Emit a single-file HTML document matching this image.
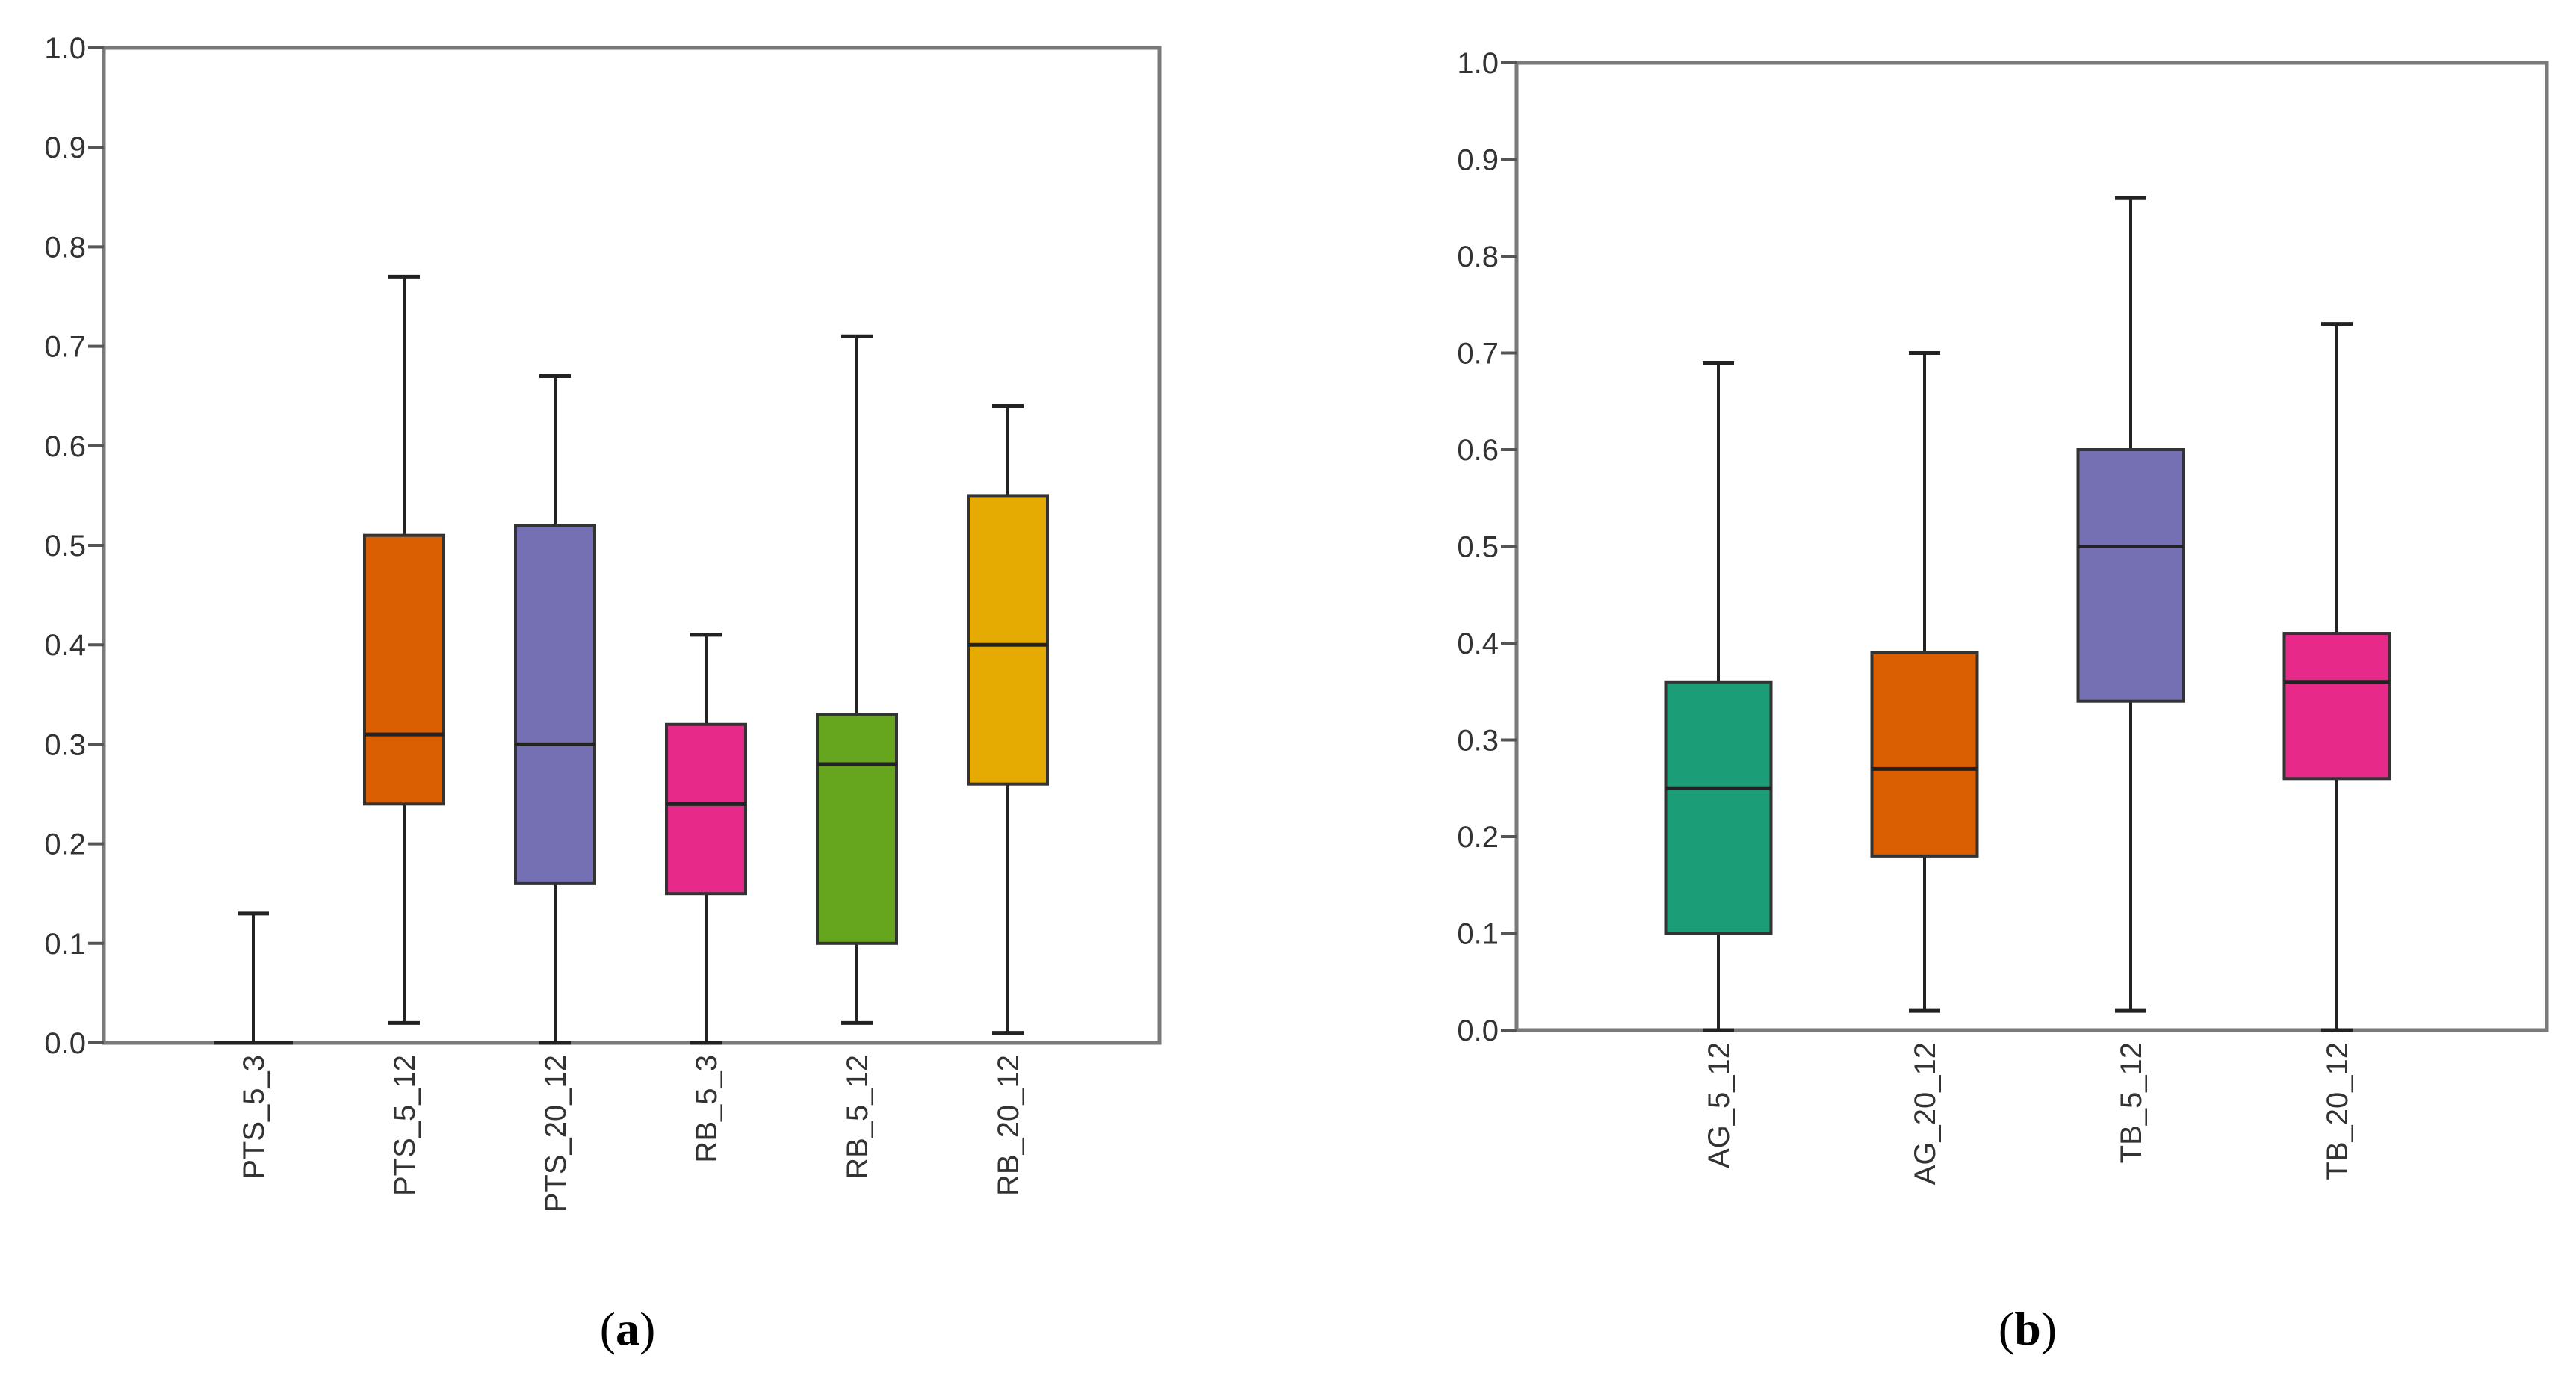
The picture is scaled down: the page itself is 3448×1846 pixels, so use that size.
<!DOCTYPE html>
<html><head><meta charset="utf-8"><style>
html,body{margin:0;padding:0;background:#fff;}
svg{display:block;}
text{font-family:"Liberation Sans",sans-serif;}
</style></head><body>
<svg id="chart" width="3448" height="1846" viewBox="0 0 3448 1846" xmlns="http://www.w3.org/2000/svg">
<rect x="0" y="0" width="3448" height="1846" fill="#fff"/>
<text x="840" y="1800" text-anchor="middle" style="font-family:'Liberation Serif',serif" font-size="64">(<tspan font-weight="bold">a</tspan>)</text>
<text x="2714" y="1800" text-anchor="middle" style="font-family:'Liberation Serif',serif" font-size="64">(<tspan font-weight="bold">b</tspan>)</text>
</svg>
<script>
const catsA = ["PTS_5_3","PTS_5_12","PTS_20_12","RB_5_3","RB_5_12","RB_20_12"];
const minA = [0, 0.02, 0, 0, 0.02, 0.01];
const q1A = [0, 0.24, 0.16, 0.15, 0.10, 0.26];
const medA = [0, 0.31, 0.30, 0.24, 0.28, 0.40];
const q3A = [0, 0.51, 0.52, 0.32, 0.33, 0.55];
const maxA = [0.13, 0.77, 0.67, 0.41, 0.71, 0.64];
const colA = ["#d95f02","#d95f02","#7570b3","#e7298a","#66a61e","#e6ab02"];

const catsB = ["AG_5_12","AG_20_12","TB_5_12","TB_20_12"];
const minB = [0, 0.02, 0.02, 0];
const q1B = [0.10, 0.18, 0.34, 0.26];
const medB = [0.25, 0.27, 0.50, 0.36];
const q3B = [0.36, 0.39, 0.60, 0.41];
const maxB = [0.69, 0.70, 0.86, 0.73];
const colB = ["#1b9e77","#d95f02","#7570b3","#e7298a"];

const yTicks = [0,0.1,0.2,0.3,0.4,0.5,0.6,0.7,0.8,0.9,1.0];

const svg = document.getElementById('chart');
const NS = "http://www.w3.org/2000/svg";
function mk(tag, attrs){const e=document.createElementNS(NS,tag);for(const k in attrs)e.setAttribute(k,attrs[k]);svg.appendChild(e);return e;}

function panel(p, cats, mn, q1, md, q3, mx, cols, prefix){
  const y = v => p.bottom - v*(p.bottom-p.top);
  const x = i => p.x0 + i*p.step;
  const fr = mk('rect',{x:p.left,y:p.top,width:p.right-p.left,height:p.bottom-p.top,fill:'none',stroke:'#7a7a7a','stroke-width':5});
  
  
  yTicks.forEach(t=>{
    const tk = mk('line',{x1:p.left-21,x2:p.left,y1:y(t),y2:y(t),stroke:'#555','stroke-width':4});
    
    
    const tl = mk('text',{x:p.left-24,y:y(t)+14,'text-anchor':'end','font-size':40,fill:'#333'});
    tl.textContent = t.toFixed(1);
    
    
  });
  cats.forEach((c,i)=>{
    const cx = x(i), hw = p.bw/2;
    const wh = mk('line',{x1:cx,x2:cx,y1:y(mx[i]),y2:y(mn[i]),stroke:'#222','stroke-width':4});
    
    
    [mn[i],mx[i]].forEach(v=>{
      const cap = mk('line',{x1:cx-21,x2:cx+21,y1:y(v),y2:y(v),stroke:'#222','stroke-width':5});
      
      
    });
    if(q3[i]>q1[i]){
      const b = mk('rect',{x:cx-hw,y:y(q3[i]),width:p.bw,height:y(q1[i])-y(q3[i]),fill:cols[i],stroke:'#333','stroke-width':4});
      
      
    }
    const m = mk('line',{x1:cx-hw,x2:cx+hw,y1:y(md[i]),y2:y(md[i]),stroke:'#222','stroke-width':5});
    
    
    const l = mk('text',{x:0,y:0,'text-anchor':'end','font-size':40,fill:'#333',transform:`translate(${cx+14},${p.bottom+16}) rotate(-90)`});
    l.textContent = c;
    
    
  });
}
panel({left:139,right:1552,top:64,bottom:1396,x0:339,step:202,bw:106}, catsA,minA,q1A,medA,q3A,maxA,colA,'panel-a');
panel({left:2030,right:3409,top:84,bottom:1379,x0:2300,step:276,bw:141}, catsB,minB,q1B,medB,q3B,maxB,colB,'panel-b');
</script>
</body></html>
